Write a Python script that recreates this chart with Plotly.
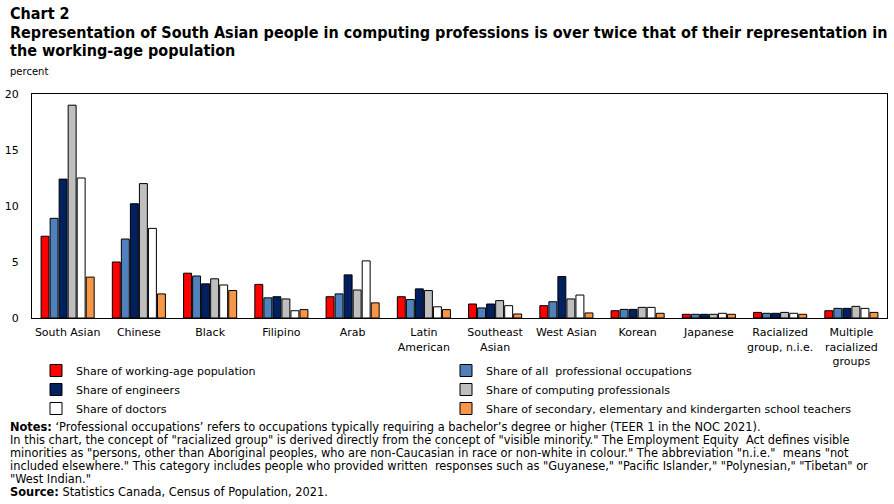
import plotly.graph_objects as go

categories = ["South Asian", "Chinese", "Black", "Filipino", "Arab", "Latin<br>American",
              "Southeast<br>Asian", "West Asian", "Korean", "Japanese",
              "Racialized<br>group, n.i.e.", "Multiple<br>racialized<br>groups"]

working_age = [7.3, 5.0, 4.0, 3.0, 1.9, 1.9, 1.25, 1.1, 0.65, 0.33, 0.5, 0.65]
all_prof = [8.9, 7.05, 3.75, 1.8, 2.15, 1.65, 0.9, 1.45, 0.77, 0.33, 0.42, 0.86]
engineers = [12.4, 10.2, 3.05, 1.9, 3.85, 2.6, 1.25, 3.7, 0.77, 0.33, 0.42, 0.86]
computing = [19.0, 12.0, 3.5, 1.7, 2.5, 2.45, 1.55, 1.7, 0.95, 0.33, 0.5, 1.04]
doctors = [12.5, 8.0, 2.95, 0.65, 5.1, 1.0, 1.1, 2.05, 0.95, 0.42, 0.42, 0.86]
teachers = [3.65, 2.15, 2.45, 0.75, 1.35, 0.75, 0.36, 0.45, 0.42, 0.33, 0.33, 0.5]

series = [
    ("Share of working-age population", working_age, "#FF0000"),
    ("Share of all  professional occupations", all_prof, "#4F81BD"),
    ("Share of engineers", engineers, "#002060"),
    ("Share of computing professionals", computing, "#BFBFBF"),
    ("Share of doctors", doctors, "#FFFFFF"),
    ("Share of secondary, elementary and kindergarten school teachers", teachers, "#F79646"),
]

TITLE_FONT = "DejaVu Sans Condensed"
BODY_FONT = "DejaVu Sans"

W, H = 894, 504
ML, MR, MT, MB = 32, 7, 94, 186

fig = go.Figure()
for i, (name, vals, color) in enumerate(series):
    fig.add_trace(go.Bar(
        x=categories, y=vals, name=name,
        legend="legend" if i % 2 == 0 else "legend2",
        marker=dict(color=color, line=dict(color="#000000", width=1)),
    ))

legend_common = dict(
    orientation="v", xref="container", yref="container",
    y=1 - 356 / H, xanchor="left", yanchor="top",
    itemwidth=30, tracegroupgap=0,
    font=dict(family=BODY_FONT, size=11),
    bgcolor="rgba(0,0,0,0)",
)

fig.update_layout(
    width=W, height=H,
    margin=dict(l=ML, r=MR, t=MT, b=MB, autoexpand=False),
    paper_bgcolor="white", plot_bgcolor="white",
    barmode="group", bargap=0.24, bargroupgap=0.12,
    font=dict(family=BODY_FONT, size=11, color="#000000"),
    showlegend=True,
    legend=dict(x=36 / W, **legend_common),
    legend2=dict(x=446 / W, **legend_common),
    xaxis=dict(
        showline=True, linecolor="#000000", linewidth=1, mirror=True,
        ticks="", showgrid=False, tickangle=0, automargin=False,
        tickfont=dict(family=BODY_FONT, size=11), ticklabelstandoff=4,
    ),
    yaxis=dict(
        range=[0, 20], dtick=5, showline=True, linecolor="#000000", linewidth=1,
        mirror=True, ticks="", showgrid=False, zeroline=False, automargin=False,
        tickfont=dict(family=BODY_FONT, size=11), ticklabelstandoff=10,
    ),
)

def text_at(txt, y, size=11, family=BODY_FONT, x=8):
    fig.add_annotation(
        text=txt, xref="paper", yref="paper", showarrow=False,
        x=(x - ML) / (W - ML - MR), y=(H - MB - y) / (H - MT - MB),
        xanchor="left", yanchor="middle", align="left",
        font=dict(family=family, size=size, color="#000000"),
    )

text_at("<b>Chart 2</b>", 14, size=16, family=TITLE_FONT)
text_at("<b>Representation of South Asian people in computing professions is over twice that of their representation in</b>", 33, size=16, family=TITLE_FONT)
text_at("<b>the working-age population</b>", 50, size=16, family=TITLE_FONT)
text_at("percent", 72, size=10)

notes = [
    "<b>Notes:</b> ‘Professional occupations’ refers to occupations typically requiring a bachelor’s degree or higher (TEER 1 in the NOC 2021).",
    "In this chart, the concept of \"racialized group\" is derived directly from the concept of \"visible minority.\" The Employment Equity  Act defines visible",
    "minorities as \"persons, other than Aboriginal peoples, who are non-Caucasian in race or non-white in colour.\" The abbreviation \"n.i.e.\"  means \"not",
    "included elsewhere.\" This category includes people who provided written  responses such as \"Guyanese,\" \"Pacific Islander,\" \"Polynesian,\" \"Tibetan\" or",
    "\"West Indian.\"",
    "<b>Source:</b> Statistics Canada, Census of Population, 2021.",
]
for i, line in enumerate(notes):
    text_at(line, 427 + 13 * i, size=11.4)

fig.write_html("out.html", post_script="document.body.style.margin='0';",
               config={"displayModeBar": False})
